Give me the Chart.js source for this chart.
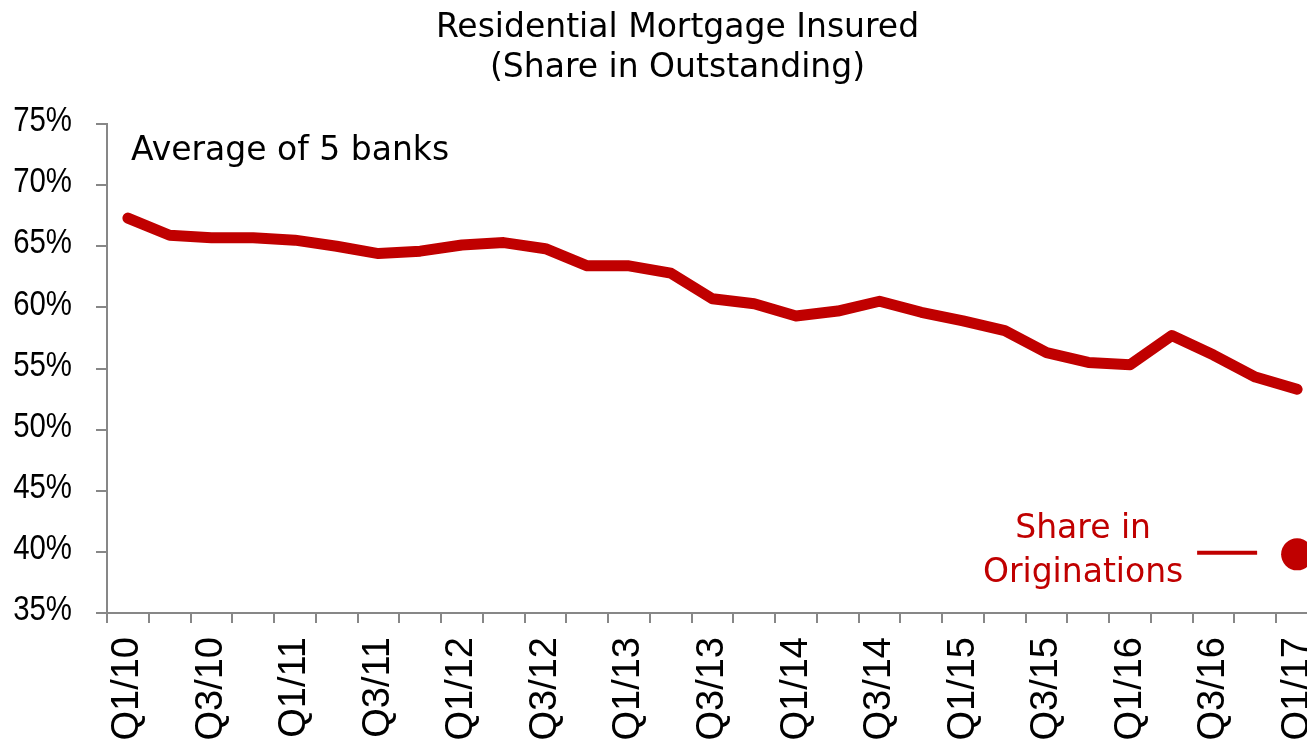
<!DOCTYPE html>
<html>
<head>
<meta charset="utf-8">
<title>Residential Mortgage Insured</title>
<script src="https://cdn.jsdelivr.net/npm/chart.js@4.4.1/dist/chart.umd.min.js"></script>
<style>
  html, body { margin: 0; padding: 0; background: #ffffff; overflow: hidden; }
  #wrap { width: 1307px; height: 744px; overflow: hidden; position: relative; }
  canvas { display: block; }
</style>
</head>
<body>
<div id="wrap"><canvas id="chart" width="1318" height="744"></canvas></div>
<script>
// Quarters from Q1 2010 to Q1 2017
const categories = [
  'Q1/10','Q2/10','Q3/10','Q4/10',
  'Q1/11','Q2/11','Q3/11','Q4/11',
  'Q1/12','Q2/12','Q3/12','Q4/12',
  'Q1/13','Q2/13','Q3/13','Q4/13',
  'Q1/14','Q2/14','Q3/14','Q4/14',
  'Q1/15','Q2/15','Q3/15','Q4/15',
  'Q1/16','Q2/16','Q3/16','Q4/16',
  'Q1/17'
];

// Insured share of outstanding residential mortgages, average of 5 banks (%)
const outstandingShare = [
  67.3, 65.9, 65.7, 65.7,
  65.5, 65.0, 64.4, 64.6,
  65.1, 65.3, 64.8, 63.4,
  63.4, 62.8, 60.7, 60.3,
  59.3, 59.7, 60.5, 59.6,
  58.9, 58.1, 56.3, 55.5,
  55.3, 57.7, 56.1, 54.3,
  53.3
];

// Insured share of new originations, latest quarter (%)
const originationShare = 39.8;

// y-axis tick values (%)
const yTicks = [35, 40, 45, 50, 55, 60, 65, 70, 75];

const titleLines = ['Residential Mortgage Insured', '(Share in Outstanding)'];
const noteText = 'Average of 5 banks';
const originationLabel = ['Share in', 'Originations'];

const RED = '#C00000';
const AXIS = '#878787';
const TEXT_FONT = '"DejaVu Sans", sans-serif';
const TICK_FONT = '"Liberation Sans", Arial, sans-serif';

const lastIndex = categories.length - 1;
const originationData = categories.map((c, i) => (i === lastIndex ? originationShare : null));

// Condensed y-axis labels, drawn from the scale's own ticks
const condensedYLabels = {
  id: 'condensedYLabels',
  afterDraw(chart) {
    const ctx = chart.ctx;
    const scale = chart.scales.y;
    ctx.save();
    ctx.fillStyle = '#000000';
    ctx.font = '35px ' + TICK_FONT;
    ctx.textAlign = 'right';
    ctx.textBaseline = 'middle';
    scale.ticks.forEach(t => {
      const y = scale.getPixelForValue(t.value);
      ctx.save();
      ctx.translate(scale.right - 35, y - 2.5);
      ctx.scale(0.84, 1);
      ctx.fillText(t.value + '%', 0, 0);
      ctx.restore();
    });
    ctx.restore();
  }
};

// Title, note and the originations call-out
const annotations = {
  id: 'annotations',
  afterDatasetsDraw(chart) {
    const ctx = chart.ctx;
    const area = chart.chartArea;
    ctx.save();
    ctx.textBaseline = 'alphabetic';

    // two-line title
    ctx.fillStyle = '#000000';
    ctx.font = '33px ' + TEXT_FONT;
    ctx.textAlign = 'center';
    ctx.fillText(titleLines[0], 677.5, 37);
    ctx.fillText(titleLines[1], 677.5, 77);

    // note inside the plot
    ctx.textAlign = 'left';
    ctx.fillText(noteText, area.left + 24, area.top + 36);

    // call-out next to the originations dot
    const pt = chart.getDatasetMeta(1).data[lastIndex];
    ctx.strokeStyle = RED;
    ctx.lineWidth = 4;
    ctx.beginPath();
    ctx.moveTo(pt.x - 100, pt.y - 1.5);
    ctx.lineTo(pt.x - 40, pt.y - 1.5);
    ctx.stroke();

    ctx.fillStyle = RED;
    ctx.textAlign = 'center';
    ctx.fillText(originationLabel[0], pt.x - 214, pt.y - 16);
    ctx.fillText(originationLabel[1], pt.x - 214, pt.y + 28);
    ctx.restore();
  }
};

new Chart(document.getElementById('chart'), {
  type: 'line',
  data: {
    labels: categories,
    datasets: [
      {
        label: 'Share in Outstanding',
        data: outstandingShare,
        borderColor: RED,
        backgroundColor: RED,
        borderWidth: 11,
        borderCapStyle: 'round',
        borderJoinStyle: 'round',
        pointRadius: 0,
        tension: 0,
        fill: false
      },
      {
        label: 'Share in Originations',
        data: originationData,
        showLine: false,
        pointRadius: 16,
        pointBackgroundColor: RED,
        pointBorderWidth: 0,
        backgroundColor: RED
      }
    ]
  },
  options: {
    responsive: false,
    animation: false,
    devicePixelRatio: 1,
    layout: { autoPadding: false, padding: { top: 124, left: 0, right: 0, bottom: 0 } },
    plugins: {
      legend: { display: false },
      title: { display: false },
      tooltip: { enabled: false }
    },
    scales: {
      x: {
        offset: true,
        afterFit(scale) {
          scale.height = 131;
          scale.paddingLeft = 0;
          scale.paddingRight = 0;
        },
        grid: {
          offset: true,
          drawOnChartArea: false,
          drawTicks: true,
          tickLength: 10,
          color: AXIS,
          lineWidth: 2
        },
        border: { display: true, color: AXIS, width: 2 },
        ticks: {
          autoSkip: false,
          maxRotation: 90,
          minRotation: 90,
          padding: 14,
          color: '#000000',
          font: { family: TICK_FONT, size: 38 },
          callback: (value, index) => (index % 2 === 0 ? categories[index] : '')
        }
      },
      y: {
        min: yTicks[0],
        max: yTicks[yTicks.length - 1],
        afterFit(scale) {
          scale.width = 107;
          scale.paddingTop = 0;
          scale.paddingBottom = 0;
        },
        afterBuildTicks(scale) { scale.ticks = yTicks.map(v => ({ value: v })); },
        grid: {
          drawOnChartArea: false,
          drawTicks: true,
          tickLength: 11,
          color: AXIS,
          lineWidth: 2
        },
        border: { display: true, color: AXIS, width: 2 },
        ticks: { display: false }
      }
    }
  },
  plugins: [condensedYLabels, annotations]
});
</script>
</body>
</html>
